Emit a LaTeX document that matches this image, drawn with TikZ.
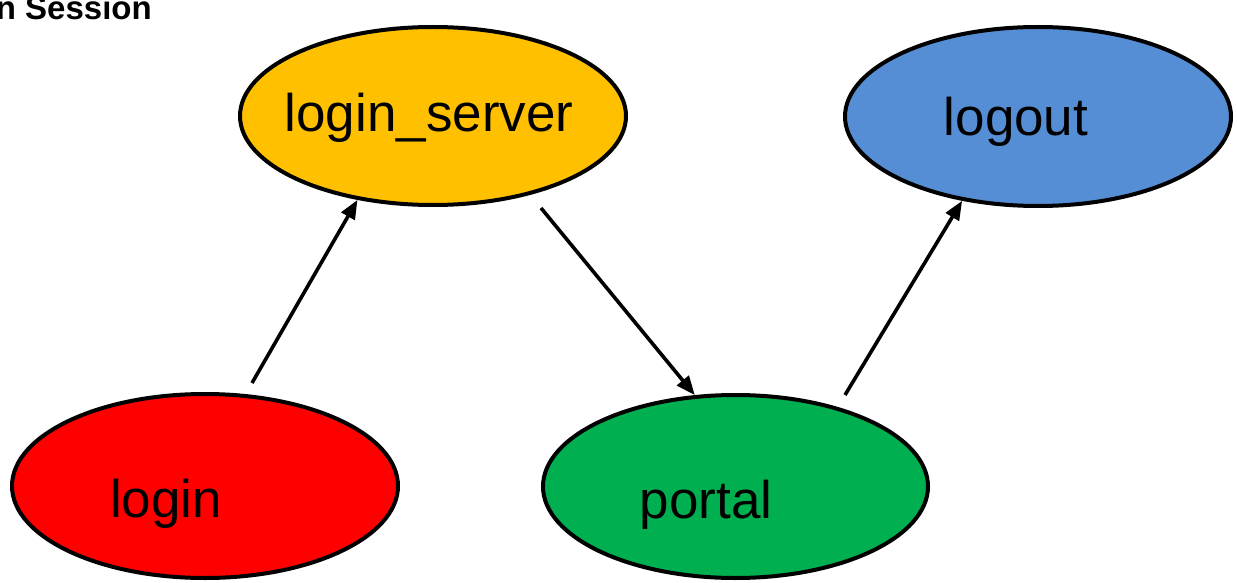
\documentclass[tikz,border=0pt]{standalone}
\usepackage{fontspec}
\setmainfont{Liberation Sans}
\usetikzlibrary{shapes.geometric,arrows.meta}
\definecolor{cyellow}{HTML}{FFC000}
\definecolor{cblue}{HTML}{558ED5}
\definecolor{cred}{HTML}{FF0000}
\definecolor{cgreen}{HTML}{00B050}
\tikzset{
  state/.style={ellipse, draw=black, line width=4pt, inner sep=0pt},
  lbl/.style={font=\fontsize{53}{60}\selectfont, inner sep=0pt, anchor=base},
  conn/.style={line width=3.6pt, -{Triangle[length=19pt,width=15pt]}},
}
\begin{document}
\begin{tikzpicture}[x=1pt,y=-1pt]
\useasboundingbox (0,0) rectangle (1237,583);
\node[font=\bfseries\fontsize{33}{36}\selectfont, anchor=base east, inner sep=0pt] (title) at (152,20) {n Session};
\node[state, fill=cyellow, minimum width=386pt, minimum height=178pt] (ls) at (433,116) {};
\node[state, fill=cblue, minimum width=386pt, minimum height=179pt] (lo) at (1038,116.5) {};
\node[state, fill=cred, minimum width=386pt, minimum height=184pt] (li) at (205,486) {};
\node[state, fill=cgreen, minimum width=385pt, minimum height=183pt] (po) at (735.5,486.5) {};
\node[lbl] (lst) at (429,132) {login\_server};
\node[lbl] (lot) at (1016,136) {logout};
\node[lbl] (lit) at (166,517) {login};
\node[lbl] (pot) at (706,518) {portal};
\coordinate (s1) at (252,383);
\coordinate (s2) at (541,208);
\coordinate (s3) at (845,395);
\draw[conn] (s1) -- (ls.228.6);
\draw[conn] (s2) -- (po.114.6);
\draw[conn] (s3) -- (lo.228.3);
\end{tikzpicture}
\end{document}
